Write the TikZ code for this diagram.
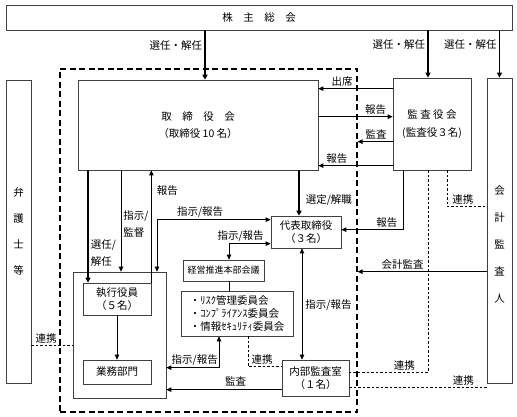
\documentclass[tikz,border=0pt]{standalone}
\usepackage{fontspec}
\setmainfont{Noto Sans CJK JP}
\usetikzlibrary{arrows.meta,calc}
\begin{document}
\begin{tikzpicture}[x=1pt,y=-1pt,
  box/.style={draw=black!75,line width=0.7pt,inner sep=0pt,align=center,font=\fontsize{10.5}{16}\selectfont},
  tip/.tip={Triangle[length=5pt,width=4.5pt]},
  arr/.style={line width=0.8pt,-tip},
  darr/.style={line width=0.8pt,tip-tip},
  tarr/.style={line width=1.6pt,-{Triangle[length=5pt,width=5pt]}},
  plain/.style={line width=0.8pt},
  link/.style={line width=0.7pt,dash pattern=on 2.5pt off 2pt},
  lbl/.style={font=\fontsize{10.5}{17}\selectfont,inner sep=0pt},
]
\useasboundingbox (0,0) rectangle (517,417);
\fill[white] (0,0) rectangle (517,417);

% frame (dashed)
\node[draw,line width=1.1pt,dash pattern=on 6pt off 3.5pt,minimum width=297pt,minimum height=343pt,inner sep=0pt] (frame) at (208.5,240.5) {};

% boxes
\node[box,minimum width=506pt,minimum height=25pt] (share) at (259,17.5) {株　主　総　会};
\node[box,minimum width=25pt,minimum height=303pt,font=\fontsize{10.5}{26}\selectfont] (bengo) at (18.5,231.5) {弁\\護\\士\\等};
\node[box,minimum width=25pt,minimum height=305pt] (kaikei) at (499.5,230.5) {};
\node[lbl,align=center,font=\fontsize{10.5}{27}\selectfont] (kaikeitxt) at ($(kaikei.center)+(0,14)$) {会\\計\\監\\査\\人};
\node[box,minimum width=240pt,minimum height=90pt] (board) at (198,125) {取　締　役　会\\[1pt]（取締役 10 名）};
\node[box,minimum width=78pt,minimum height=92pt] (audit) at (432,124) {監 査 役 会\\[2pt](監査役３名)};
\node[box,minimum width=70pt,minimum height=32pt,font=\fontsize{10.5}{13}\selectfont] (daihyo) at (306,232) {代表取締役\\（３名）};
\node[box,minimum width=81pt,minimum height=21pt,font=\fontsize{9}{11}\selectfont] (keiei) at (223.5,270.5) {経営推進本部会議};
\node[box,minimum width=112pt,minimum height=45pt,align=left,font=\fontsize{10.5}{13}\selectfont] (iinkai) at (237,313.5) {・ﾘｽｸ管理委員会\\・ｺﾝﾌﾟﾗｲｱﾝｽ委員会\\・情報ｾｷｭﾘﾃｨ委員会};
\node[box,minimum width=67pt,minimum height=36pt,font=\fontsize{10.5}{13}\selectfont] (naibu) at (315.5,378) {内部監査室\\（１名）};
\node[box,minimum width=93pt,minimum height=126pt] (execgrp) at (119.5,335) {};
\node[box,minimum width=68pt,minimum height=32pt,font=\fontsize{10.5}{13}\selectfont] (shikko) at (117,299) {執行役員\\（５名）};
\node[box,minimum width=68pt,minimum height=24pt] (gyomu) at (117,372) {業務部門};

% shareholders -> boards
\coordinate (c1) at ([xshift=7pt]board.north);
\draw[tarr] (share.south -| c1) -- (c1) node[lbl,pos=0.3,left=2pt] {選任・解任};
\coordinate (c2) at ([xshift=-4pt]audit.north);
\draw[tarr] (share.south -| c2) -- (c2) node[lbl,pos=0.31,left=2pt] {選任・解任};
\coordinate (c3) at (kaikei.north);
\draw[tarr] (share.south -| c3) -- (c3) node[lbl,pos=0.31,left=2pt] {選任・解任};

% audit board <-> board
\coordinate (a1) at ($(audit.north west)+(0,11)$);
\draw[arr] (a1) -- (a1 -| board.east) node[lbl,pos=0.68,above=2pt] {出席};
\coordinate (a2) at ($(audit.north west)+(0,39)$);
\draw[arr] (a2 -| board.east) -- (a2) node[lbl,pos=0.77,above=2pt] {報告};
\coordinate (a3) at ($(audit.north west)+(0,64)$);
\draw[arr] (a3) -- (a3 -| frame.east) node[lbl,pos=0.47,above=2pt] {監査};
\coordinate (a4) at ($(audit.north west)+(0,88)$);
\draw[arr] (a4) -- (a4 -| board.east) node[lbl,pos=0.75,above=2pt] {報告};

% board -> representative director
\coordinate (d1) at ([xshift=-7pt]daihyo.north);
\draw[tarr] (board.south -| d1) -- (d1) node[lbl,pos=0.65,right=6pt] {選定/解職};

% audit -> representative director
\coordinate (a5) at ([xshift=-29pt]audit.south);
\coordinate (d2) at ($(daihyo.north east)+(0,14)$);
\draw[arr] (a5) |- (d2) node[lbl,pos=0.63,above=2pt] {報告};

% audit -- accounting auditor
\coordinate (a6) at ([xshift=15pt]audit.south);
\coordinate (k1) at ($(kaikei.north west)+(0,129)$);
\draw[link] (a6) |- (k1) node[lbl,pos=0.7,above=2pt] {連携};

% audit -- internal audit
\coordinate (a7) at ([xshift=-4pt]audit.south);
\coordinate (n1) at ($(naibu.north east)+(0,13)$);
\draw[link] (a7) |- (n1) node[lbl,pos=0.65,above=2pt] {連携};

% accounting audit
\coordinate (k2) at ($(kaikei.north west)+(0,194)$);
\draw[arr] (k2) -- (k2 -| frame.east) node[lbl,pos=0.65,above=2pt] {会計監査};

% internal audit -- accounting auditor
\coordinate (n2) at ($(naibu.north east)+(0,28)$);
\draw[link] (n2) -- (n2 -| kaikei.west) node[lbl,pos=0.83,above=2pt] {連携};

% representative <-> internal audit
\coordinate (d3) at ([xshift=-4pt]daihyo.south);
\draw[darr] (d3) -- (d3 |- naibu.north) node[lbl,pos=0.51,right=3pt] {指示/報告};

% representative <-> executive group
\coordinate (d4) at ($(daihyo.north west)+(0,4)$);
\coordinate (e1) at ([xshift=37.5pt]execgrp.north);
\draw[darr] (d4) -| (e1) node[lbl,pos=0.31,above=2pt] {指示/報告};

% representative <-> management meeting
\coordinate (d5) at ($(daihyo.north west)+(0,28)$);
\coordinate (m1) at ([xshift=5.5pt]keiei.north);
\draw[darr] (d5) -| (m1) node[lbl,pos=0.36,above=2pt] {指示/報告};
\draw[plain] (m1 |- keiei.south) -- (m1 |- iinkai.north);

% committees <-> executive group
\coordinate (i1) at ([xshift=-18pt]iinkai.south);
\coordinate (e2) at ($(execgrp.north east)+(0,96)$);
\draw[darr] (i1) |- (e2) node[lbl,pos=0.73,above=2pt] {指示/報告};

% committees -- internal audit
\coordinate (i2) at ([xshift=11pt]iinkai.south);
\coordinate (n3) at ($(naibu.north west)+(0,7)$);
\draw[link] (i2) |- (n3) node[lbl,pos=0.71,above=2pt] {連携};

% internal audit -> executive group
\coordinate (n4) at ($(naibu.north west)+(0,30)$);
\draw[arr] (n4) -- (n4 -| execgrp.east) node[lbl,pos=0.4,above=3pt] {監査};

% board -> executive officers
\coordinate (s1) at ([xshift=-29pt]shikko.north);
\draw[tarr] (board.south -| s1) -- (s1) node[lbl,pos=0.74,right=2pt,align=left] {選任/\\解任};
\coordinate (e3) at ([xshift=1.5pt]execgrp.north);
\draw[arr] (board.south -| e3) -- (e3) node[lbl,pos=0.53,right=2pt,align=left] {指示/\\監督};
\coordinate (s2) at (shikko.north east);
\draw[arr] (s2) -- (s2 |- board.south) node[lbl,pos=0.82,right=5pt] {報告};
\draw[arr] (shikko) -- (gyomu);

% lawyers -- executive group
\coordinate (b1) at ($(bengo.north east)+(0,266)$);
\draw[link] (b1) -- (b1 -| execgrp.west) node[lbl,pos=0.36,above=2pt] {連携};
\end{tikzpicture}
\end{document}
